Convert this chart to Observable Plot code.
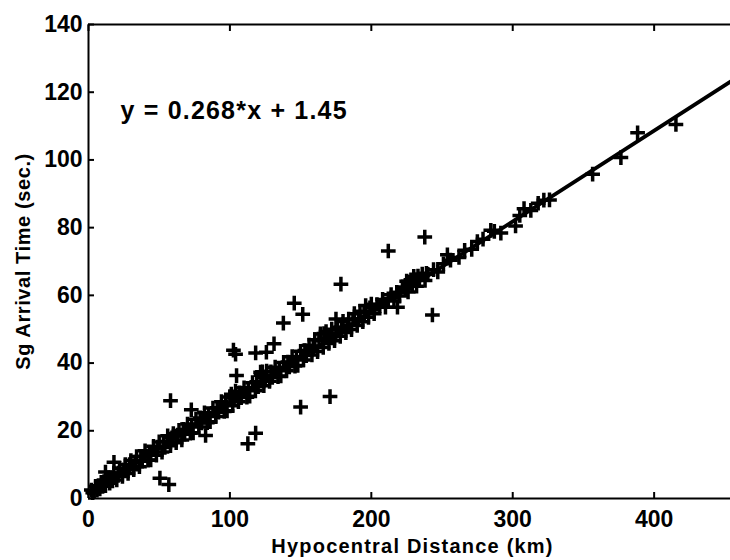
<!DOCTYPE html>
<html>
<head>
<meta charset="utf-8">
<script src="https://cdn.jsdelivr.net/npm/d3@7"></script>
<script src="https://cdn.jsdelivr.net/npm/@observablehq/plot@0.6"></script>
<style>
  html, body { margin: 0; padding: 0; background: #fff; }
  #chart { width: 730px; height: 560px; overflow: hidden; }
</style>
</head>
<body>
<div id="chart"></div>
<script>
// Hypocentral distance (km) and Sg arrival time (s)
const clusterX = [2,3,4,5,6,7,8,9,10,11,12,14,15,16,17,18,20,21,22,24,25,26,28,29,30,32,33,34,36,37,38,40,42,43,44,46,48,49,50,52,53,54,56,58,59,60,62,63,64,66,67,68,70,72,73,74,76,78,79,80,82,84,85,86,88,90,91,92,94,96,97,98,100,101,102,103,104,106,107,108,110,112,113,114,116,118,119,120,122,123,124,125,126,128,129,130,132,134,135,136,138,140,141,142,144,146,147,148,150,152,153,154,156,158,159,160,162,163,164,166,167,168,170,171,172,174,175,176,178,179,180,182,183,184,186,187,188,190,191,192,194,195,196,198,199,200,202,204,206,208,210,212,214,216,218,220,222,224,225,226,228,229,230,232,233,234,236,238,239,240,244,247,251,256,262,266,271,275,279,287,291.6,302,305,308,312.8,318,322,326,356.5,376.5,388.3,415.4];
const clusterY = [2.5,1.7,2.1,3.6,2.5,3.8,2.8,4.8,3.6,5.0,3.8,6.2,4.5,6.1,5.2,7.5,5.5,7.5,8.9,6.5,8.5,10.0,7.4,10.0,11.2,8.5,10.5,12.4,9.4,12.4,11.0,14.1,11.3,13.6,11.4,15.4,12.8,14.9,16.7,13.7,16.8,15.1,18.5,15.6,17.9,19.2,16.5,18.5,20.1,17.3,20.4,19.0,22.0,19.3,21.4,19.4,23.4,21.1,23.8,22.3,25.3,22.4,24.7,22.7,26.7,24.2,26.8,25.5,28.6,25.7,27.9,25.9,30.0,30.8,27.4,29.7,31.7,28.6,31.2,29.8,32.7,29.9,32.1,30.2,34.2,31.8,34.5,33.0,36.4,37.4,33.3,35.8,37.6,34.6,37.4,35.8,38.8,36.0,38.2,36.2,40.2,37.7,40.3,38.9,41.9,39.1,41.4,39.3,43.5,40.9,43.7,42.2,45.3,42.4,44.7,46.9,43.4,46.6,48.6,44.6,47.4,49.3,45.8,48.1,50.0,46.6,48.9,50.6,47.9,50.5,52.3,49.0,51.2,53.0,49.9,52.9,54.6,51.1,53.1,55.3,52.2,54.9,57.0,53.5,56.3,57.4,54.6,57.3,56.9,58.8,56.5,59.0,60.2,58.3,60.9,59.8,62.5,61.9,64.2,61.0,64.6,63.4,65.6,62.7,65.7,64.7,66.3,64.4,66.5,66.2,67.6,66.9,69.3,70.4,71.2,73.3,73.6,75.9,76.6,78.9,78.4,80.5,83.6,85.6,85.1,87.2,88.1,88.2,95.8,100.7,108.0,110.5];

const outlierX = [12,18,50.5,56.8,58,72.7,82.8,102.5,104,104.7,112.7,118.2,118.2,125.8,131.2,137.8,145.5,151.5,150,170.8,178.5,175,121.7,166.5,218.5,243.2,212,237.8,253.8,284.5];
const outlierY = [7.8,10.7,6.0,4.1,28.9,26.2,18.6,43.8,42.6,36.3,16.2,19.3,43.0,43.2,45.7,51.8,57.7,54.4,27.0,30.1,63.3,53.0,37.3,48.7,56.5,54.2,73.1,77.2,72.0,79.2];

// Least-squares fit quoted on the figure: y = 0.268*x + 1.45
const fitX = [0, 454];
const fitY = [1.45, 123.12];

const xTicks = [0, 100, 200, 300, 400];
const yTicks = [0, 20, 40, 60, 80, 100, 120, 140];
const xLimits = [0, 454];
const yLimits = [0, 140];

const equationText = ["y = 0.268*x + 1.45"];
const equationX = 22.6, equationY = 114.5;
const xLabel = "Hypocentral Distance (km)";
const yLabel = "Sg Arrival Time (sec.)";

const points = clusterX.map((x, i) => ({x, y: clusterY[i]}))
  .concat(outlierX.map((x, i) => ({x, y: outlierY[i]})));
const fit = fitX.map((x, i) => ({x, y: fitY[i]}));

const chart = Plot.plot({
  width: 730,
  height: 560,
  marginLeft: 88,
  marginRight: 0,
  marginTop: 24,
  marginBottom: 62,
  x: {domain: xLimits},
  y: {domain: yLimits},
  style: {fontFamily: "'Liberation Sans', Arial, sans-serif", fontWeight: "bold", color: "#000", background: "#fff"},
  marks: [
    Plot.ruleY(yLimits, {stroke: "#000", strokeWidth: 2}),
    Plot.ruleX([xLimits[0]], {stroke: "#000", strokeWidth: 2}),
    Plot.axisX({anchor: "bottom", ticks: xTicks, tickSize: -6, tickPadding: 18, fontSize: 23, strokeWidth: 2, label: null}),
    Plot.axisX({anchor: "top", ticks: xTicks, tickSize: -6, tickFormat: () => "", strokeWidth: 2, label: null}),
    Plot.axisY({anchor: "left", ticks: yTicks, tickSize: -6, tickPadding: 12, fontSize: 23, strokeWidth: 2, label: null}),
    Plot.line(fit, {x: "x", y: "y", stroke: "#000", strokeWidth: 3.8}),
    Plot.dot(points, {x: "x", y: "y", symbol: "plus", r: 4.8, stroke: "#000", strokeWidth: 3.5}),
    Plot.text(equationText, {x: equationX, y: equationY, textAnchor: "start", fontSize: 25, fontWeight: "bold", fill: "#000"}),
    Plot.text([xLabel], {frameAnchor: "bottom", textAnchor: "middle", lineAnchor: "middle", dx: 3, dy: 48, fontSize: 20, fontWeight: "bold", fill: "#000"}),
    Plot.text([yLabel], {frameAnchor: "left", textAnchor: "middle", lineAnchor: "middle", dx: -65, rotate: -90, fontSize: 20, fontWeight: "bold", fill: "#000"})
  ]
});

d3.select(chart).selectAll("text").each(function() {
  const t = this.textContent;
  if (t === xLabel) this.setAttribute("letter-spacing", "1.2");
  else if (t === yLabel) this.setAttribute("letter-spacing", "0.6");
  else if (t === equationText[0]) this.setAttribute("letter-spacing", "1.2");
});

document.getElementById("chart").appendChild(chart);
</script>
</body>
</html>
